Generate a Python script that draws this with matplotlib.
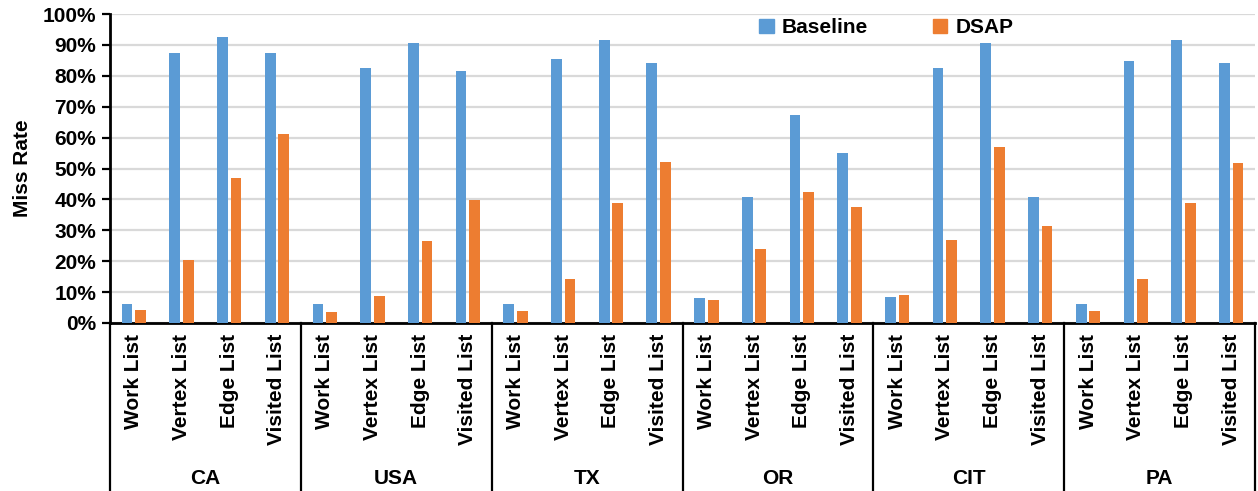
import matplotlib
matplotlib.use('Agg')
import matplotlib.pyplot as plt
import matplotlib.transforms as mtransforms
from matplotlib.patches import Patch
from matplotlib.ticker import PercentFormatter
import numpy as np

plt.rcParams['font.family'] = ['Liberation Sans', 'DejaVu Sans']
plt.rcParams['font.weight'] = 'bold'

##########
# data   #
##########
graphs = ['CA', 'USA', 'TX', 'OR', 'CIT', 'PA']
structures = ['Work List', 'Vertex List', 'Edge List', 'Visited List']

baseline = [6.2, 87.4, 92.5, 87.4,
            6.2, 82.5, 90.7, 81.7,
            6.2, 85.3, 91.7, 84.3,
            8.1, 40.7, 67.3, 55.0,
            8.3, 82.6, 90.5, 40.7,
            6.2, 84.9, 91.6, 84.0]
dsap = [4.3, 20.3, 46.8, 61.2,
        3.5, 8.8, 26.4, 39.9,
        4.0, 14.1, 38.7, 52.0,
        7.4, 24.1, 42.5, 37.4,
        9.0, 26.8, 56.9, 31.5,
        4.0, 14.2, 38.8, 51.9]

c_base = '#5B9BD5'
c_dsap = '#ED7D31'

############
# plotting #
############
W, H = 1258, 491
fig = plt.figure(figsize=(W / 100, H / 100), dpi=100)
ax = fig.add_axes([110 / W, (H - 323) / H, (1255 - 110) / W, (323 - 14) / H])

n = len(baseline)
x = np.arange(n) + 0.5
bw = 0.225
ax.bar(x - bw / 2 - 0.03, baseline, width=bw, color=c_base, zorder=3)
ax.bar(x + bw / 2 + 0.03, dsap, width=bw, color=c_dsap, zorder=3)

ax.set_xlim(0, n)
ax.set_ylim(0, 100)
ax.set_yticks(np.arange(0, 101, 10))
ax.yaxis.set_major_formatter(PercentFormatter(decimals=0))
ax.grid(axis='y', color='#D9D9D9', linewidth=1.6, zorder=0)
ax.set_axisbelow(True)
ax.set_xticks([])
ax.tick_params(axis='y', direction='out', length=6, width=1.6, labelsize=15, pad=4)
for lbl in ax.get_yticklabels():
    lbl.set_fontweight('bold')

for side in ['top', 'right']:
    ax.spines[side].set_visible(False)
ax.spines['left'].set_linewidth(2)
ax.spines['bottom'].set_linewidth(2)
ax.set_ylabel('Miss Rate', fontsize=15, fontweight='bold', labelpad=8)

# multi-level category axis
trans = mtransforms.blended_transform_factory(ax.transData, ax.transAxes)
for g in range(len(graphs) + 1):
    ax.plot([g * 4, g * 4], [0, -0.56], transform=trans, color='black',
            linewidth=1.6, clip_on=False)
for i in range(n):
    ax.annotate(structures[i % 4], xy=(x[i], 0), xycoords=trans,
                xytext=(0, -11), textcoords='offset pixels',
                rotation=90, ha='center', va='top', fontsize=15, fontweight='bold')
for g, name in enumerate(graphs):
    ax.annotate(name, xy=(g * 4 + 2, 0), xycoords=trans,
                xytext=(0, -155), textcoords='offset pixels',
                ha='center', va='center', fontsize=15, fontweight='bold')

handles = [Patch(color=c_base, label='Baseline'), Patch(color=c_dsap, label='DSAP')]
ax.legend(handles=handles, loc='center', bbox_to_anchor=(0.678, 0.955), ncol=2,
          frameon=False, handlelength=0.7, handleheight=0.7,
          handletextpad=0.4, columnspacing=3.1, prop={'weight': 'bold', 'size': 15})

plt.savefig('out.png', dpi=100)
plt.close('all')
